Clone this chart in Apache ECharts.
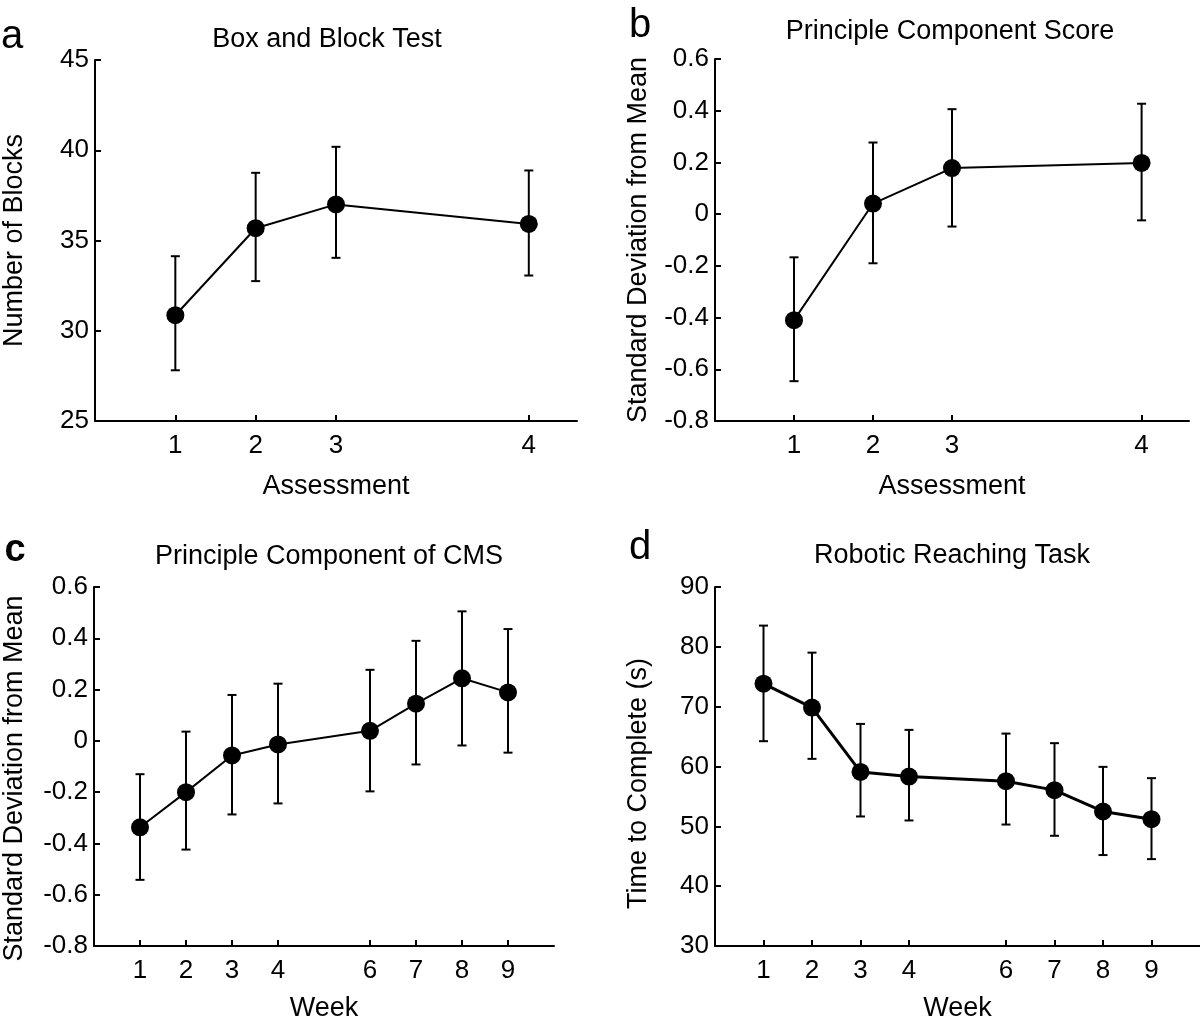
<!DOCTYPE html>
<html>
<head>
<meta charset="utf-8">
<script src="https://cdn.jsdelivr.net/npm/echarts@6/dist/echarts.min.js"></script>
<style>
html,body{margin:0;padding:0;background:#fff;}
#chart{width:1200px;height:1023px;}
</style>
</head>
<body>
<div id="chart"></div>
<script>
// ---- Data ----
const assessmentPos = [1, 2, 3, 5.4];
const assessmentLabels = ['1', '2', '3', '4'];
const weeks = [1, 2, 3, 4, 6, 7, 8, 9];

// a: Box and Block Test
const blocksMean  = [30.86, 35.68, 37.0, 35.92];
const blocksUpper = [34.13, 38.75, 40.19, 38.88];
const blocksLower = [27.81, 32.75, 34.04, 33.06];

// b: Principle Component Score
const pcsMean  = [-0.41, 0.041, 0.178, 0.198];
const pcsUpper = [-0.167, 0.277, 0.406, 0.427];
const pcsLower = [-0.646, -0.19, -0.048, -0.024];

// c: Principle Component of CMS
const cmsMean  = [-0.337, -0.200, -0.057, -0.014, 0.039, 0.145, 0.244, 0.189];
const cmsUpper = [-0.130, 0.036, 0.179, 0.223, 0.277, 0.390, 0.505, 0.436];
const cmsLower = [-0.542, -0.424, -0.287, -0.244, -0.197, -0.092, -0.018, -0.046];

// d: Robotic Reaching Task
const robotMean  = [73.85, 69.84, 59.1, 58.32, 57.54, 56.05, 52.48, 51.2];
const robotUpper = [83.55, 79.03, 67.12, 66.12, 65.5, 63.9, 59.94, 58.05];
const robotLower = [64.23, 61.28, 51.65, 50.98, 50.3, 48.42, 45.2, 44.52];

// ---- Chart ----
const FONT = '"Liberation Sans", Arial, Helvetica, sans-serif';
const chart = echarts.init(document.getElementById('chart'), null, {renderer: 'canvas'});

function zip(xs, ys) { return xs.map((x, i) => [x, ys[i]]); }
function errData(xs, lo, hi) { return xs.map((x, i) => [x, lo[i], hi[i]]); }

function errRender(params, api) {
  const x = api.value(0), lo = api.value(1), hi = api.value(2);
  const pLo = api.coord([x, lo]);
  const pHi = api.coord([x, hi]);
  const cap = 4.5;
  const st = {stroke: '#000', lineWidth: 2};
  return {
    type: 'group',
    children: [
      {type: 'line', shape: {x1: pLo[0], y1: pLo[1], x2: pHi[0], y2: pHi[1]}, style: st},
      {type: 'line', shape: {x1: pLo[0] - cap, y1: pLo[1], x2: pLo[0] + cap, y2: pLo[1]}, style: st},
      {type: 'line', shape: {x1: pHi[0] - cap, y1: pHi[1], x2: pHi[0] + cap, y2: pHi[1]}, style: st}
    ]
  };
}

const axisLine = {show: true, onZero: false, lineStyle: {color: '#000', width: 2}};
const tickStyle = {show: true, inside: true, length: 6, lineStyle: {color: '#000', width: 2}};
const labelStyle = {color: '#000', fontSize: 26, fontFamily: FONT};
const nameStyle = {color: '#000', fontSize: 27, fontFamily: FONT};

function xAxisDef(gridIndex, max, positions, labels, name, gap) {
  return {
    type: 'value', gridIndex, min: 0, max,
    name, nameLocation: 'middle', nameGap: gap, nameTextStyle: nameStyle,
    axisLine,
    axisTick: Object.assign({}, tickStyle, {customValues: positions}),
    axisLabel: Object.assign({}, labelStyle, {
      margin: 12,
      customValues: positions,
      formatter: v => { const i = positions.indexOf(v); return i >= 0 ? labels[i] : ''; }
    }),
    splitLine: {show: false}
  };
}
function yAxisDef(gridIndex, min, max, interval, name, gap, shiftDown) {
  return {
    type: 'value', gridIndex, min, max, interval,
    name, nameLocation: 'middle', nameGap: gap,
    nameTextStyle: Object.assign({}, nameStyle, {padding: [0, 2 * (shiftDown || 0), 0, 0]}),
    axisLine,
    axisTick: tickStyle,
    axisLabel: Object.assign({}, labelStyle, {margin: 6}),
    splitLine: {show: false}
  };
}

function panelSeries(idx, xs, mean, lo, hi, lw) {
  return [
    {
      type: 'custom', xAxisIndex: idx, yAxisIndex: idx,
      renderItem: errRender, encode: {x: 0, y: [1, 2]},
      data: errData(xs, lo, hi), z: 2, silent: true
    },
    {
      type: 'line', xAxisIndex: idx, yAxisIndex: idx,
      data: zip(xs, mean),
      symbol: 'circle', symbolSize: 18,
      itemStyle: {color: '#000'},
      lineStyle: {color: '#000', width: lw},
      z: 3, silent: true
    }
  ];
}

function txt(x, y, text, size, weight) {
  return {
    type: 'text', x, y,
    style: {text, fill: '#000', font: (weight || 'normal') + ' ' + size + 'px ' + FONT,
            textAlign: 'center', textVerticalAlign: 'middle'}
  };
}

const option = {
  animation: false,
  backgroundColor: '#fff',
  grid: [
    {left: 94, top: 60, width: 483, height: 361},
    {left: 715, top: 59, width: 474, height: 362},
    {left: 94, top: 587, width: 460, height: 359},
    {left: 715, top: 587, width: 485, height: 359}
  ],
  xAxis: [
    xAxisDef(0, 6, assessmentPos, assessmentLabels, 'Assessment', 52),
    xAxisDef(1, 6, assessmentPos, assessmentLabels, 'Assessment', 52),
    xAxisDef(2, 10, weeks, weeks.map(String), 'Week', 49),
    xAxisDef(3, 10, weeks, weeks.map(String), 'Week', 49)
  ],
  yAxis: [
    yAxisDef(0, 25, 45, 5, 'Number of Blocks', 67, 0),
    yAxisDef(1, -0.8, 0.6, 0.2, 'Standard Deviation from Mean', 63, 0),
    yAxisDef(2, -0.8, 0.6, 0.2, 'Standard Deviation from Mean', 66, 12),
    yAxisDef(3, 30, 90, 10, 'Time to Complete (s)', 63, 17)
  ],
  graphic: [
    txt(327, 40, 'Box and Block Test', 27),
    txt(950, 32, 'Principle Component Score', 27),
    txt(329, 557, 'Principle Component of CMS', 27),
    txt(952, 556, 'Robotic Reaching Task', 27),
    txt(12, 37, 'a', 40),
    txt(640, 26, 'b', 40),
    txt(15, 551, 'c', 38, 'bold'),
    txt(640, 548, 'd', 40)
  ],
  series: [].concat(
    panelSeries(0, assessmentPos, blocksMean, blocksLower, blocksUpper, 2),
    panelSeries(1, assessmentPos, pcsMean, pcsLower, pcsUpper, 2),
    panelSeries(2, weeks, cmsMean, cmsLower, cmsUpper, 2),
    panelSeries(3, weeks, robotMean, robotLower, robotUpper, 3)
  )
};
chart.setOption(option);
</script>
</body>
</html>
